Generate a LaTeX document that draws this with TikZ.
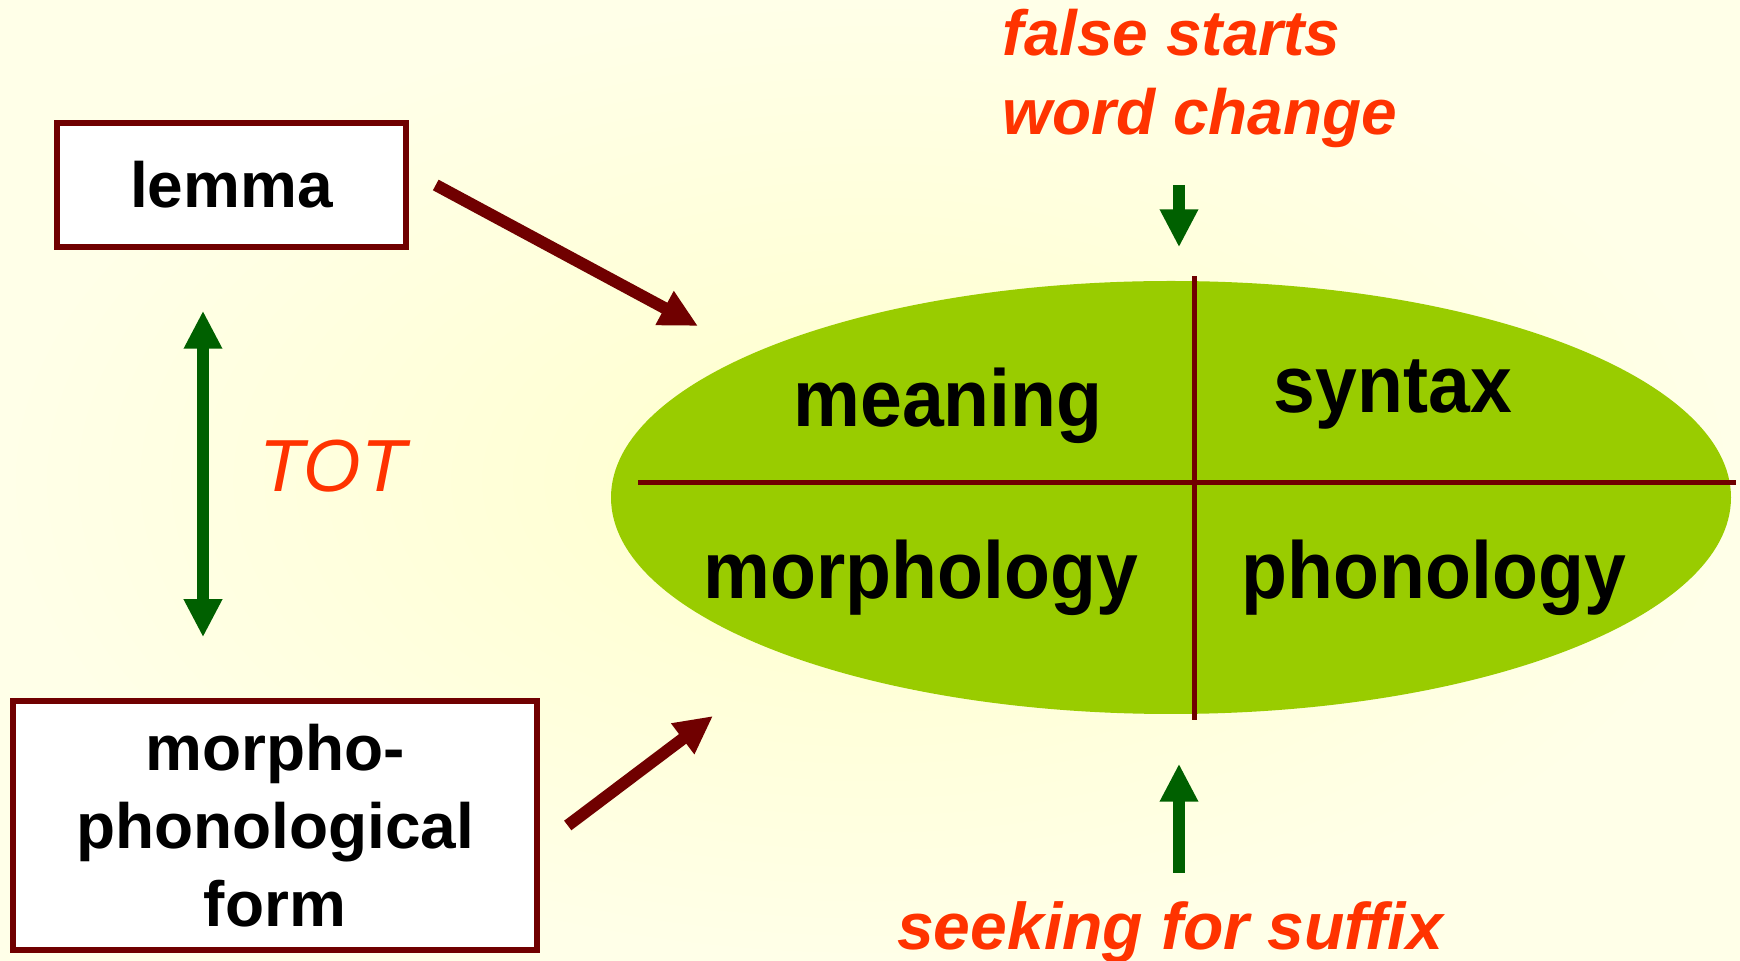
\documentclass[tikz,border=0pt]{standalone}
\usepackage{fontspec}
\setmainfont{Liberation Sans}
\newfontfamily\quadfont{Liberation Sans}[FakeStretch=0.93]
\usetikzlibrary{arrows.meta,positioning,calc,shapes.geometric}
\definecolor{wine}{RGB}{112,0,0}
\definecolor{leafgreen}{RGB}{0,96,0}
\definecolor{limefill}{RGB}{153,204,0}
\definecolor{flame}{RGB}{255,51,0}
\definecolor{paper}{RGB}{255,255,204}
\definecolor{paperlight}{RGB}{255,255,232}

\begin{document}
\begin{tikzpicture}[
  wordbox/.style={draw=wine, line width=0.55mm, fill=white, align=center, inner sep=0pt, font=\fontsize{18.2}{22.2}\selectfont\bfseries},
  part/.style={anchor=base, inner sep=0pt, font=\quadfont\fontsize{23}{26}\selectfont\bfseries},
  cue/.style={text=flame, inner sep=0pt, font=\fontsize{18.2}{22.7}\selectfont\bfseries\itshape},
  feed/.style={wine, line width=1.2mm, -{Triangle[length=3.8mm,width=3.6mm]}},
  probe/.style={leafgreen, line width=1.2mm, -{Triangle[length=3.8mm,width=3.6mm]}},
  divider/.style={wine, line width=0.5mm}
]
\shade[inner color=paper, outer color=paperlight] (0,0) rectangle (17.40,9.61);
\useasboundingbox (0,0) rectangle (17.40,9.61);

\node[wordbox, minimum width=3.49cm, minimum height=1.24cm] (lemma) at (2.315,7.76) {lemma};
\node[wordbox, minimum width=5.24cm, minimum height=2.49cm] (form) at (2.75,1.355) {morpho-\\phonological\\form};

\node[ellipse, fill=limefill, inner sep=0pt, minimum width=11.20cm, minimum height=4.33cm] (ell) at (11.71,4.635) {};
\draw[divider] ([xshift=0.23cm,yshift=0.04cm]ell.north) -- ([xshift=0.23cm,yshift=-0.05cm]ell.south);
\draw[divider] ([xshift=0.28cm,yshift=0.145cm]ell.west) -- ([xshift=0.04cm,yshift=0.145cm]ell.east);

\node[part] (meaning) at (9.48,5.34) {meaning};
\node[part] (syntax) at (13.93,5.48) {syntax};
\node[part] (morph) at (9.21,3.62) {morphology};
\node[part] (phon) at (14.34,3.62) {phonology};

\node[cue, anchor=base, font=\fontsize{21}{24}\selectfont\itshape] (tot) at (3.33,4.69) {TOT};
\node[cue, align=left, anchor=base west] (slips) at (10.02,8.26) {false starts\\word change};
\node[cue, anchor=base, font=\fontsize{18.8}{22}\selectfont\bfseries\itshape] (seek) at (11.70,0.11) {seeking for suffix};

% arrows into the ellipse
\coordinate (lemmaTip) at (6.98,6.35);
\coordinate (formTip) at (7.13,2.45);
\draw[feed] ([xshift=0.27cm]lemma.east) -- (lemmaTip);
\draw[feed] ([xshift=0.28cm]form.east) -- (formTip);

\draw[probe, {Triangle[length=3.8mm,width=3.6mm]}-{Triangle[length=3.8mm,width=3.6mm]}, shorten <=0.61cm, shorten >=0.61cm]
  ([xshift=-0.285cm]lemma.south) -- ([xshift=-0.285cm]lemma.south |- form.north);

\coordinate (dropTop) at (11.79,7.76);
\coordinate (riseBot) at (11.79,0.88);
\draw[probe, shorten >=0.33cm] (dropTop) -- (dropTop |- ell.north);
\draw[probe, shorten >=0.49cm] (riseBot) -- (riseBot |- ell.south);
\end{tikzpicture}
\end{document}
